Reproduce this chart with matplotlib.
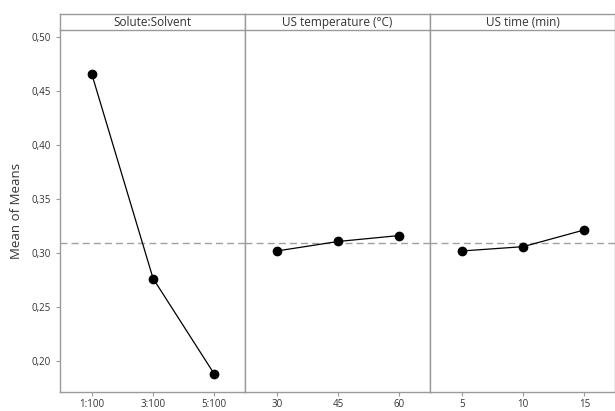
import matplotlib
matplotlib.use("Agg")
import matplotlib.pyplot as plt

# Main effects plot data (means of means)
factors = ["Solute:Solvent", "US temperature (°C)", "US time (min)"]
levels = [["1:100", "3:100", "5:100"], ["30", "45", "60"], ["5", "10", "15"]]
means = [[0.4655, 0.2765, 0.188],
         [0.302, 0.3108, 0.3163],
         [0.302, 0.306, 0.3215]]
grand_mean = 0.3098
yticks = [0.20, 0.25, 0.30, 0.35, 0.40, 0.45, 0.50]

plt.rcParams['font.family'] = ['Open Sans', 'DejaVu Sans']
fig = plt.figure(figsize=(6.15, 4.11), dpi=100)

W, H = 615, 411
left, pw = 60, 185
top_plot, bottom_plot, top_head = 30, 392, 14
frame_col = "#9a9a9a"

for i, name in enumerate(factors):
    x0 = left + i * pw
    ax = fig.add_axes([x0 / W, 1 - bottom_plot / H, pw / W, (bottom_plot - top_plot) / H])
    xs = range(len(levels[i]))
    ax.axhline(grand_mean, color="#a0a0a0", ls=(0, (5, 3)), lw=1)
    ax.plot(xs, means[i], color="black", lw=0.9, marker="o", ms=6)
    ax.set_xlim(-0.52, 2.5)
    ax.set_ylim(0.1715, 0.5065)
    ax.set_xticks(list(xs))
    ax.set_xticklabels(levels[i])
    ax.set_yticks(yticks)
    for s in ax.spines.values():
        s.set_color(frame_col)
        s.set_linewidth(1)
    ax.spines["top"].set_visible(False)
    ax.tick_params(axis="both", colors=frame_col, labelcolor="#333333", labelsize=7,
                   length=3, width=0.8)
    ax.tick_params(axis="x", pad=2)
    if i == 0:
        ax.set_yticklabels([f"{v:.2f}".replace(".", ",") for v in yticks])
        ax.set_ylabel("Mean of Means", fontsize=9.5, color="#333333", labelpad=6)
    else:
        ax.tick_params(axis="y", left=False, labelleft=False)

    # header strip
    hx = fig.add_axes([x0 / W, 1 - top_plot / H, pw / W, (top_plot - top_head) / H])
    hx.set_xticks([])
    hx.set_yticks([])
    for s in hx.spines.values():
        s.set_color(frame_col)
        s.set_linewidth(1)
    hx.text(0.5, 0.45, name, ha="center", va="center", fontsize=8.5, color="#333333",
            transform=hx.transAxes)

fig.savefig("out.png", dpi=100)
